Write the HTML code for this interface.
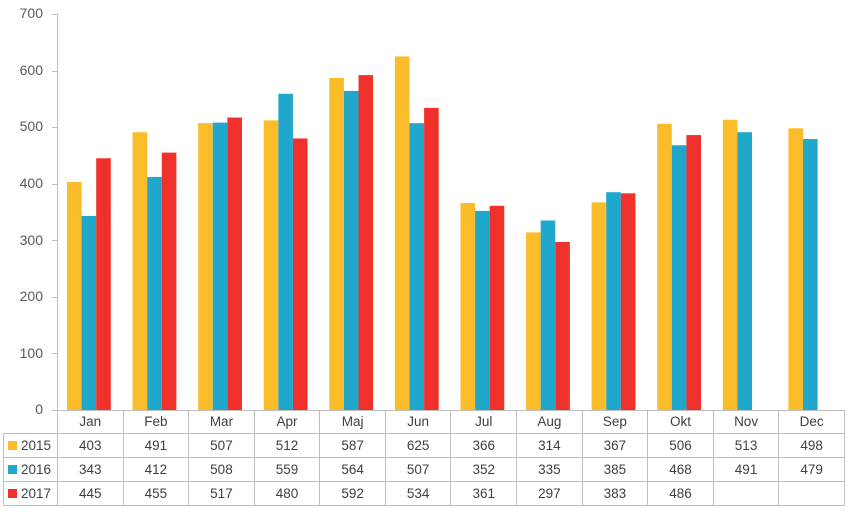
<!DOCTYPE html>
<html><head><meta charset="utf-8"><style>
body{margin:0;width:850px;height:512px;background:#fff;font-family:"Liberation Sans",sans-serif;overflow:hidden;position:relative}
.yl{position:absolute;right:807px;font-size:14px;color:#595959;line-height:16px}
table{position:absolute;left:3px;top:410px;border-collapse:collapse;font-size:13.5px;color:#404040;table-layout:fixed;width:841px}
td{border:1px solid #bfbfbf;text-align:center;padding:0;height:23px;overflow:hidden;white-space:nowrap}
td.h{text-align:left;padding-left:4px}
tr:first-child td{border-top:none}
tr:first-child td.e{border:none;border-right:1px solid #bfbfbf}
.sq{display:inline-block;width:9px;height:9px;margin-right:4px;vertical-align:0px}
</style></head><body>
<div class="yl" style="top:5px">700</div>
<div class="yl" style="top:62px">600</div>
<div class="yl" style="top:118px">500</div>
<div class="yl" style="top:175px">400</div>
<div class="yl" style="top:232px">300</div>
<div class="yl" style="top:288px">200</div>
<div class="yl" style="top:345px">100</div>
<div class="yl" style="top:401px">0</div>
<svg id="s" width="850" height="512" style="position:absolute;left:0;top:0"></svg>
<table>
<colgroup><col style="width:54px"><col span="12" style="width:65.58px"></colgroup>
<tr style="height:23px"><td class="e h"></td><td>Jan</td><td>Feb</td><td>Mar</td><td>Apr</td><td>Maj</td><td>Jun</td><td>Jul</td><td>Aug</td><td>Sep</td><td>Okt</td><td>Nov</td><td>Dec</td></tr>
<tr><td class="h"><span class="sq" style="background:#fbbc2a"></span>2015</td><td>403</td><td>491</td><td>507</td><td>512</td><td>587</td><td>625</td><td>366</td><td>314</td><td>367</td><td>506</td><td>513</td><td>498</td></tr>
<tr><td class="h"><span class="sq" style="background:#1fa7cc"></span>2016</td><td>343</td><td>412</td><td>508</td><td>559</td><td>564</td><td>507</td><td>352</td><td>335</td><td>385</td><td>468</td><td>491</td><td>479</td></tr>
<tr><td class="h"><span class="sq" style="background:#f0302a"></span>2017</td><td>445</td><td>455</td><td>517</td><td>480</td><td>592</td><td>534</td><td>361</td><td>297</td><td>383</td><td>486</td><td></td><td></td></tr>
</table>
<script>
var d=[[403,491,507,512,587,625,366,314,367,506,513,498],[343,412,508,559,564,507,352,335,385,468,491,479],[445,455,517,480,592,534,361,297,383,486,null,null]];
var c=["#fbbc2a","#1fa7cc","#f0302a"],s="";
for(var i=0;i<12;i++)for(var k=0;k<3;k++){var v=d[k][i];if(v==null)continue;var x=57+i*65.58+10+k*14.6,h=v*0.5657;s+='<rect x="'+x+'" y="'+(410-h)+'" width="14.6" height="'+h+'" fill="'+c[k]+'"/>';}
s+='<line x1="57.5" y1="14" x2="57.5" y2="410" stroke="#bfbfbf"/>';
for(var j=0;j<=7;j++){var y=Math.round(410-j*56.57)+0.5;s+='<line x1="52" y1="'+y+'" x2="57" y2="'+y+'" stroke="#bfbfbf"/>';}
s+='<line x1="57" y1="410.5" x2="845" y2="410.5" stroke="#bfbfbf"/>';
document.getElementById("s").innerHTML=s;
</script>
</body></html>
